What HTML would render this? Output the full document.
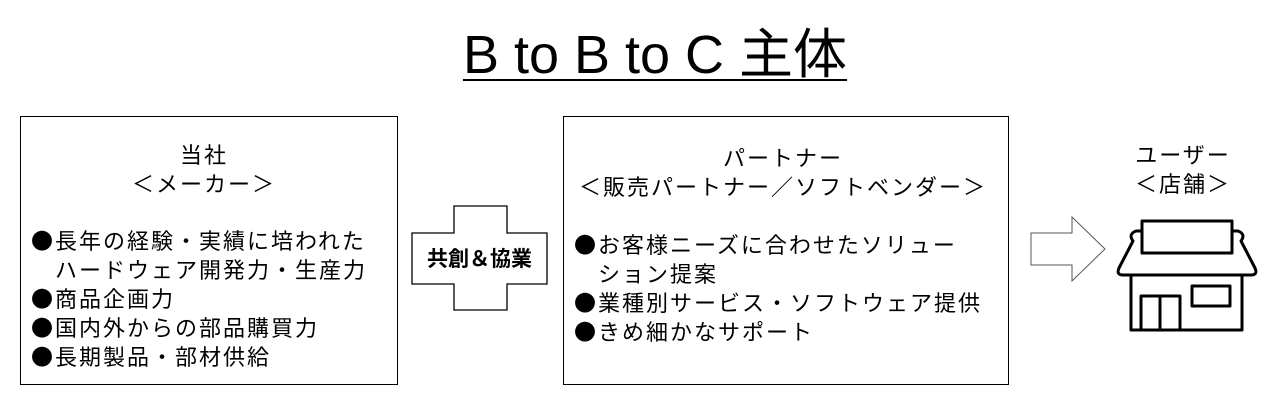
<!DOCTYPE html>
<html><head><meta charset="utf-8"><style>
body{margin:0;width:1275px;height:416px;background:#fff;position:relative;overflow:hidden;font-family:"Liberation Sans","Noto Sans CJK JP",sans-serif;color:#000}
.t{position:absolute;white-space:nowrap}
.box{position:absolute;border:1.5px solid #000;box-sizing:border-box}
.c{font-size:22px;letter-spacing:2px;line-height:29px}
.j{font-family:"Noto Sans CJK JP",sans-serif}
</style></head><body>
<div class="t" style="left:0;width:1310px;text-align:center;top:24px;font-size:54px;line-height:62px;text-decoration:underline;text-decoration-thickness:2px;text-underline-offset:6px">B to B to C 主体</div>

<div class="box" style="left:20px;top:116px;width:378px;height:269px"></div>
<div class="t c j" style="left:14px;width:380px;text-align:center;top:140px">当社<br>＜メーカー＞</div>
<div class="t c j" style="left:31px;top:226px">●長年の経験・実績に培われた<br>　ハードウェア開発力・生産力<br>●商品企画力<br>●国内外からの部品購買力<br>●長期製品・部材供給</div>

<svg style="position:absolute;left:0;top:0" width="1275" height="416">
<polygon points="454,206 507,206 507,233 547,233 547,284 507,284 507,310 454,310 454,284 412,284 412,233 454,233" fill="#fff" stroke="#000" stroke-width="1.3"/>
<polygon points="1031,233 1072,233 1072,217 1105,249 1072,281 1072,265 1031,265" fill="#fff" stroke="#555" stroke-width="1"/>
<g fill="none" stroke="#000" stroke-width="3" stroke-linejoin="round">
<rect x="1142" y="221" width="90" height="32"/>
<path d="M1142,231 H1136 Q1128,234 1133,241 L1119,268 Q1116,275 1123,275 H1251 Q1258,275 1255,268 L1241,241 Q1246,234 1238,231 H1232"/>
<path d="M1131,275 V330 H1242 V275"/>
<rect x="1141" y="296" width="39" height="34"/>
<line x1="1160" y1="296" x2="1160" y2="330"/>
<rect x="1192" y="286" width="38" height="20"/>
</g>
</svg>
<div class="t j" style="left:412px;width:135px;text-align:center;top:245px;font-size:21px;font-weight:bold;line-height:26px">共創＆協業</div>

<div class="box" style="left:563px;top:116px;width:446px;height:269px"></div>
<div class="t c j" style="left:560px;width:446px;text-align:center;top:143px">パートナー<br>＜販売パートナー／ソフトベンダー＞</div>
<div class="t c j" style="left:574px;top:230px">●お客様ニーズに合わせたソリュー<br>　ション提案<br>●業種別サービス・ソフトウェア提供<br>●きめ細かなサポート</div>

<div class="t c j" style="left:1108px;width:150px;text-align:center;top:140px">ユーザー<br>＜店舗＞</div>
</body></html>
